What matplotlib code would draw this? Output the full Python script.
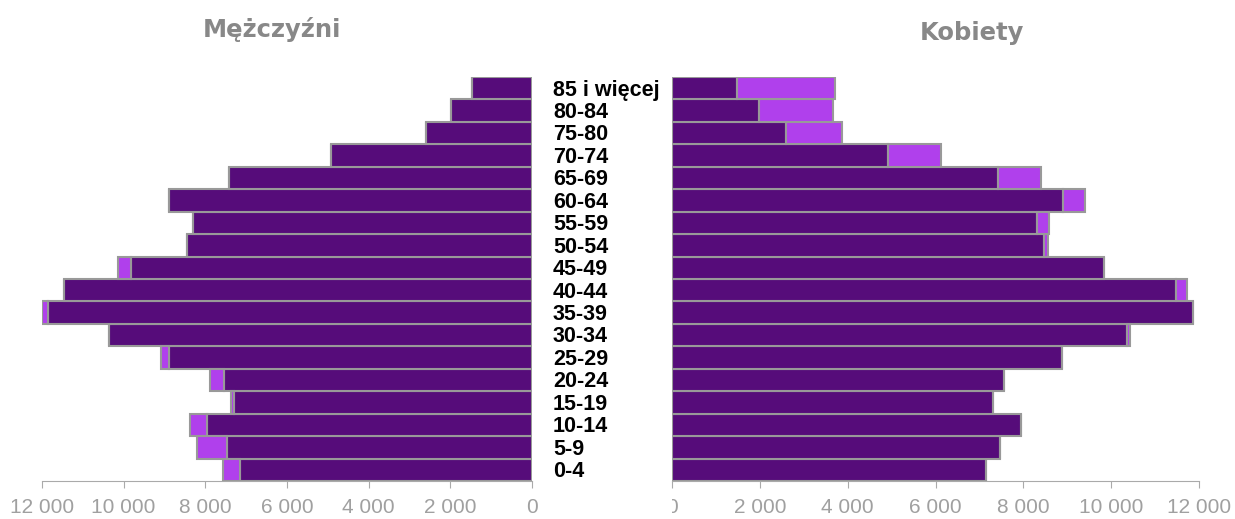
import matplotlib
matplotlib.use("Agg")
import matplotlib.pyplot as plt
import numpy as np
from matplotlib.transforms import Bbox, TransformedBbox, blended_transform_factory

# age groups, bottom to top
ages = ["0-4", "5-9", "10-14", "15-19", "20-24", "25-29", "30-34", "35-39", "40-44",
        "45-49", "50-54", "55-59", "60-64", "65-69", "70-74", "75-80", "80-84", "85 i więcej"]
men = [7560, 8210, 8370, 7370, 7890, 9080, 10370, 11990, 11470,
       10140, 8460, 8300, 8900, 7430, 4920, 2600, 1980, 1480]
women = [7160, 7480, 7950, 7310, 7550, 8890, 10420, 11860, 11730,
         9830, 8560, 8580, 9400, 8400, 6120, 3870, 3660, 3710]
ticks = [0, 2000, 4000, 6000, 8000, 10000, 12000]
tick_labels = ["0", "2 000", "4 000", "6 000", "8 000", "10 000", "12 000"]

dark = "#560C7A"
light = "#B040EC"
edge = "#999999"
grey_txt = "#a0a0a0"

men = np.array(men)
women = np.array(women)
common = np.minimum(men, women)
y = np.arange(len(ages))

fig = plt.figure(figsize=(12.35, 5.19), dpi=100)
ax_l = fig.add_axes([42 / 1235, 1 - 481 / 519, 490 / 1235, 404 / 519])
ax_r = fig.add_axes([672 / 1235, 1 - 481 / 519, 527 / 1235, 404 / 519])

for ax, vals in [(ax_l, men), (ax_r, women)]:
    ax.barh(y, common, height=1.0, color=dark, edgecolor=edge, linewidth=1.5)
    ax.barh(y, vals - common, left=common, height=1.0, color=light,
            edgecolor=edge, linewidth=1.5)
    ax.set_xlim(0, 12000)
    ax.set_ylim(-0.5, len(ages) - 0.5)
    ax.set_yticks([])
    for s in ["top", "right", "left"]:
        ax.spines[s].set_visible(False)
    ax.spines["bottom"].set_color("#aaaaaa")
    ax.set_xticks(ticks)
    ax.set_xticklabels(tick_labels, family="Liberation Sans")
    ax.tick_params(axis="x", colors="#aaaaaa", length=5, pad=7,
                   labelsize=15, labelcolor=grey_txt)

ax_l.invert_xaxis()

# the "0" on the women's axis is cut off at the plot edge
clip = TransformedBbox(Bbox([[0, -1], [1.2, 1]]), ax_r.transAxes)
for lbl in ax_r.get_xticklabels():
    lbl.set_clip_on(True)
    lbl.set_clip_box(clip)

trans = blended_transform_factory(fig.transFigure, ax_l.transData)
for yi, a in zip(y, ages):
    ax_l.text(553 / 1235, yi - 0.08, a, transform=trans, ha="left", va="center",
              fontsize=15.5, fontweight="bold", color="black",
              family="Liberation Sans", clip_on=False)

fig.text(272 / 1235, 1 - 30 / 519, "Mężczyźni", ha="center", va="center",
         fontsize=17.5, fontweight="bold", color="#888888")
fig.text(972 / 1235, 1 - 33 / 519, "Kobiety", ha="center", va="center",
         fontsize=17.5, fontweight="bold", color="#888888")

fig.savefig("out.png", dpi=100)
